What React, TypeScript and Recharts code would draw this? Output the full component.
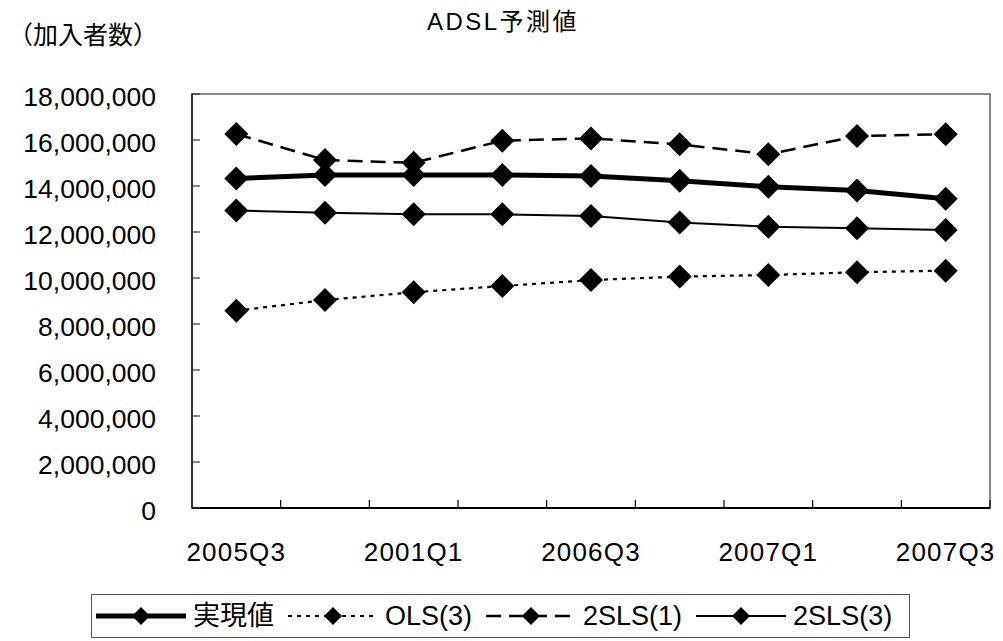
import React from "react";
import { LineChart, Line, XAxis, YAxis, ReferenceArea, Legend } from "recharts";

const categories = ["2005Q3", "2005Q4", "2001Q1", "2006Q2", "2006Q3", "2006Q4", "2007Q1", "2007Q2", "2007Q3"];
const actualValues = [14330000, 14480000, 14480000, 14480000, 14430000, 14230000, 13970000, 13800000, 13450000];
const ols3Values = [8580000, 9040000, 9380000, 9650000, 9910000, 10060000, 10130000, 10250000, 10320000];
const sls1Values = [16260000, 15130000, 15010000, 15970000, 16070000, 15810000, 15380000, 16170000, 16250000];
const sls3Values = [12930000, 12840000, 12770000, 12770000, 12700000, 12410000, 12230000, 12160000, 12090000];
const yTicks = [0, 2000000, 4000000, 6000000, 8000000, 10000000, 12000000, 14000000, 16000000, 18000000];

const data = categories.map((c, i) => ({
  cat: c,
  actual: actualValues[i],
  ols3: ols3Values[i],
  sls1: sls1Values[i],
  sls3: sls3Values[i],
}));

const series = [
  { key: "actual", name: "実現値", width: 5, dash: undefined as string | undefined },
  { key: "ols3", name: "OLS(3)", width: 2.2, dash: "4 5" },
  { key: "sls1", name: "2SLS(1)", width: 2.5, dash: "15 8" },
  { key: "sls3", name: "2SLS(3)", width: 2, dash: undefined as string | undefined },
];

const FONT = "'Liberation Sans', 'Noto Sans CJK JP', sans-serif";
const CHART_W = 995;
const CHART_H = 633;
const MARGIN = { top: 86, right: 13, left: 0, bottom: 93 };
const YAXIS_W = 184;
const PLOT_W = CHART_W - MARGIN.left - MARGIN.right - YAXIS_W;
const BAND = PLOT_W / categories.length;

const Diamond = (props: any) => {
  const { cx, cy } = props;
  if (cx == null || cy == null) return null;
  const r = 12;
  return (
    <polygon
      points={`${cx},${cy - r} ${cx + r},${cy} ${cx},${cy + r} ${cx - r},${cy}`}
      fill="#000"
      stroke="none"
    />
  );
};

const XTick = (props: any) => {
  const { x, y, payload, index } = props;
  return (
    <g>
      <line x1={x + BAND / 2} x2={x + BAND / 2} y1={y} y2={y - 8} stroke="#000" strokeWidth={1.2} />
      {index % 2 === 0 && (
        <text
          x={x}
          y={y + 44}
          textAnchor="middle"
          dominantBaseline="central"
          fontFamily={FONT}
          fontSize={26}
          letterSpacing={1.2}
          fill="#000"
        >
          {payload.value}
        </text>
      )}
    </g>
  );
};

const YTick = (props: any) => {
  const { x, y, payload } = props;
  return (
    <g>
      <line x1={x} x2={x + 8} y1={y} y2={y} stroke="#333" strokeWidth={1.2} />
      <text
        x={x - 36}
        y={y + 3}
        textAnchor="end"
        dominantBaseline="central"
        fontFamily={FONT}
        fontSize={26.5}
        fill="#000"
      >
        {Number(payload.value).toLocaleString("en-US")}
      </text>
    </g>
  );
};

const LegendKey = ({ width, dash, thick }: { width: number; dash?: string; thick: boolean }) => (
  <svg width={90} height={30} style={{ display: "block", flex: "none" }}>
    <line x1={0} x2={90} y1={15} y2={15} stroke="#000" strokeWidth={thick ? 5 : width} strokeDasharray={dash} />
    <polygon points="45,6 54,15 45,24 36,15" fill="#000" />
  </svg>
);

const LegendBox = () => (
  <div
    style={{
      boxSizing: "border-box",
      width: 819,
      height: 44,
      border: "1.5px solid #555",
      display: "flex",
      alignItems: "center",
      paddingLeft: 4,
      fontFamily: FONT,
      fontSize: 27,
      color: "#000",
      background: "#fff",
      whiteSpace: "nowrap",
    }}
  >
    {series.map((s, i) => (
      <div key={s.key} style={{ display: "flex", alignItems: "center", marginRight: i === series.length - 1 ? 0 : 14 }}>
        <LegendKey width={s.width} dash={s.dash} thick={s.key === "actual"} />
        <span style={{ marginLeft: 7, lineHeight: "30px" }}>{s.name}</span>
      </div>
    ))}
  </div>
);

export default function App() {
  return (
    <div style={{ position: "relative", width: CHART_W, height: CHART_H, background: "#fff" }}>
      <div
        style={{
          position: "absolute",
          left: 0,
          width: 990,
          top: 0,
          textAlign: "center",
          fontFamily: FONT,
          fontSize: 24,
          letterSpacing: 2.5,
          lineHeight: "28px",
          color: "#000",
        }}
      >
        ADSL予測値
      </div>
      <div
        style={{
          position: "absolute",
          left: 0,
          top: 12,
          fontFamily: FONT,
          fontSize: 25,
          lineHeight: "30px",
          color: "#000",
        }}
      >
        （加入者数）
      </div>
      <LineChart width={CHART_W} height={CHART_H} data={data} margin={MARGIN}>
        <ReferenceArea y1={0} y2={18000000} fill="none" stroke="#888" strokeWidth={2} ifOverflow="visible" />
        <XAxis
          dataKey="cat"
          scale="band"
          interval={0}
          tickSize={0}
          tickMargin={0}
          tickLine={false}
          height={40}
          axisLine={{ stroke: "#000", strokeWidth: 2 }}
          tick={<XTick />}
        />
        <YAxis
          width={YAXIS_W}
          domain={[0, 18000000]}
          ticks={yTicks}
          interval={0}
          tickSize={0}
          tickMargin={0}
          tickLine={false}
          axisLine={{ stroke: "#333", strokeWidth: 2 }}
          tick={<YTick />}
        />
        {series.map((s) => (
          <Line
            key={s.key}
            dataKey={s.key}
            name={s.name}
            stroke="#000"
            strokeWidth={s.width}
            strokeDasharray={s.dash}
            dot={<Diamond />}
            activeDot={false}
            isAnimationActive={false}
          />
        ))}
        <Legend
          layout="horizontal"
          verticalAlign="middle"
          align="center"
          content={() => <LegendBox />}
          wrapperStyle={{ position: "absolute", left: 83, top: 586, width: 819, height: 44 }}
        />
      </LineChart>
    </div>
  );
}
